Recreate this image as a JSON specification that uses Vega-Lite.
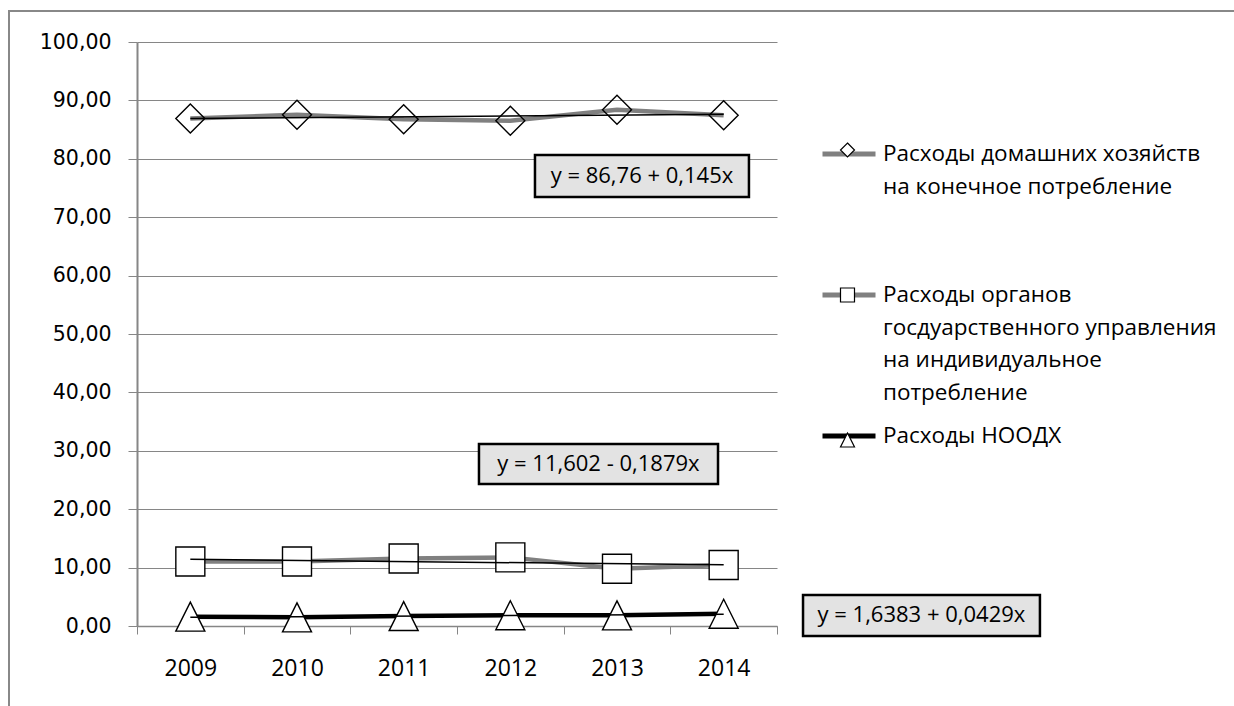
{
  "$schema": "https://vega.github.io/schema/vega-lite/v6.json",
  "width": 640,
  "height": 584,
  "autosize": "none",
  "padding": {"left": 137, "top": 42, "right": 457, "bottom": 80},
  "background": "white",
  "config": {
    "view": {"stroke": null},
    "axis": {"labelColor": "#000000", "domainColor": "#868686", "tickColor": "#868686", "gridColor": "#868686", "title": null}
  },
  "data": {
    "values": [
      {"year": 2009, "series": "Расходы домашних хозяйств на конечное потребление", "value": 86.9},
      {"year": 2010, "series": "Расходы домашних хозяйств на конечное потребление", "value": 87.54},
      {"year": 2011, "series": "Расходы домашних хозяйств на конечное потребление", "value": 86.79},
      {"year": 2012, "series": "Расходы домашних хозяйств на конечное потребление", "value": 86.5},
      {"year": 2013, "series": "Расходы домашних хозяйств на конечное потребление", "value": 88.4},
      {"year": 2014, "series": "Расходы домашних хозяйств на конечное потребление", "value": 87.47},
      {"year": 2009, "series": "Расходы органов госдуарственного управления на индивидуальное потребление", "value": 11.05},
      {"year": 2010, "series": "Расходы органов госдуарственного управления на индивидуальное потребление", "value": 11.05},
      {"year": 2011, "series": "Расходы органов госдуарственного управления на индивидуальное потребление", "value": 11.55},
      {"year": 2012, "series": "Расходы органов госдуарственного управления на индивидуальное потребление", "value": 11.75},
      {"year": 2013, "series": "Расходы органов госдуарственного управления на индивидуальное потребление", "value": 9.8},
      {"year": 2014, "series": "Расходы органов госдуарственного управления на индивидуальное потребление", "value": 10.45},
      {"year": 2009, "series": "Расходы НООДХ", "value": 1.6},
      {"year": 2010, "series": "Расходы НООДХ", "value": 1.48},
      {"year": 2011, "series": "Расходы НООДХ", "value": 1.7},
      {"year": 2012, "series": "Расходы НООДХ", "value": 1.85},
      {"year": 2013, "series": "Расходы НООДХ", "value": 1.82},
      {"year": 2014, "series": "Расходы НООДХ", "value": 2.1}
    ]
  },
  "layer": [
    {
      "encoding": {
        "x": {
          "field": "year", "type": "ordinal",
          "scale": {"type": "band", "paddingInner": 0, "paddingOuter": 0},
          "axis": {"tickBand": "extent", "labelAngle": 0, "tickSize": 8, "labelPadding": 23, "labelFont": "Open Sans", "labelFontSize": 23, "grid": false, "domainWidth": 1.5}
        },
        "y": {
          "field": "value", "type": "quantitative",
          "scale": {"domain": [0, 100], "nice": false},
          "axis": {"values": [0, 10, 20, 30, 40, 50, 60, 70, 80, 90, 100], "grid": true, "tickSize": 9, "labelPadding": 17, "labelFont": "DejaVu Sans", "labelFontSize": 20.5, "labelExpr": "replace(format(datum.value, '.2f'), '.', ',')", "domainWidth": 2}
        }
      },
      "layer": [
        {
          "mark": {"type": "line", "strokeWidth": 4.5},
          "encoding": {
            "stroke": {
              "field": "series",
              "scale": {
                "domain": ["Расходы домашних хозяйств на конечное потребление", "Расходы органов госдуарственного управления на индивидуальное потребление", "Расходы НООДХ"],
                "range": ["#808080", "#808080", "#000000"]
              },
              "legend": {
                "orient": "none", "legendX": 683, "legendY": 83, "title": null,
                "symbolType": "stroke", "symbolSize": 2809, "symbolStrokeWidth": 5,
                "labelFont": "Open Sans", "labelFontSize": 22.5, "labelColor": "#000000", "labelLimit": 600, "labelOffset": 5,
                "rowPadding": 3,
                "labelExpr": "datum.value == 'Расходы НООДХ' ? ['Расходы НООДХ'] : (datum.value == 'Расходы домашних хозяйств на конечное потребление' ? ['Расходы домашних хозяйств', 'на конечное потребление', ' ', ' '] : ['Расходы органов', 'госдуарственного управления', 'на индивидуальное', 'потребление'])",
                "encode": {"labels": {"update": {"lineHeight": {"value": 32.5}}}}
              }
            }
          }
        },
        {
          "mark": {"type": "point", "filled": true, "stroke": "#000000", "strokeWidth": 1.4, "size": 841, "opacity": 1},
          "encoding": {
            "shape": {
              "field": "series",
              "sort": ["Расходы домашних хозяйств на конечное потребление", "Расходы органов госдуарственного управления на индивидуальное потребление", "Расходы НООДХ"],
              "scale": {"range": ["M0,-1L1,0L0,1L-1,0Z", "M-1,-1L1,-1L1,1L-1,1Z", "M0,-1L1,1L-1,1Z"]},
              "legend": {
                "orient": "none", "legendX": 702.5, "legendY": 100, "title": null,
                "symbolSize": 196, "symbolStrokeColor": "#000000", "symbolFillColor": "#ffffff", "symbolStrokeWidth": 1.2,
                "labelFontSize": 10, "labelOffset": 0,
                "rowPadding": 125,
                "labelExpr": "''"
              }
            },
            "fill": {
              "field": "series",
              "scale": {
                "domain": ["Расходы домашних хозяйств на конечное потребление", "Расходы органов госдуарственного управления на индивидуальное потребление", "Расходы НООДХ"],
                "range": ["transparent", "#ffffff", "#ffffff"]
              },
              "legend": null
            }
          }
        },
        {
          "transform": [{"regression": "value", "on": "year", "groupby": ["series"]}],
          "mark": {"type": "line", "color": "#000000", "strokeWidth": 1.5},
          "encoding": {"detail": {"field": "series"}}
        }
      ]
    },
    {
      "data": {"values": [{}]},
      "layer": [
        {
          "mark": {"type": "rect", "fill": null, "stroke": "#888888", "strokeWidth": 2},
          "encoding": {
            "x": {"datum": 2007.3, "type": "quantitative", "scale": {"domain": [2008.5, 2014.5], "nice": false, "zero": false}, "axis": null},
            "x2": {"datum": 2020.5},
            "y": {"datum": 105.3, "type": "quantitative", "scale": {"domain": [0, 100], "nice": false}},
            "y2": {"datum": -16}
          }
        },
        {
          "mark": {"type": "rect", "fill": "#e3e3e3", "stroke": "#000000", "strokeWidth": 2.5},
          "encoding": {
            "x": {"datum": 2012.231, "type": "quantitative", "scale": {"domain": [2008.5, 2014.5], "nice": false, "zero": false}, "axis": null},
            "x2": {"datum": 2014.237},
            "y": {"datum": 80.65, "type": "quantitative", "scale": {"domain": [0, 100], "nice": false}},
            "y2": {"datum": 73.46}
          }
        },
        {
          "mark": {"type": "text", "text": "y = 86,76 + 0,145x", "font": "Open Sans", "fontSize": 22, "color": "#000000", "align": "center", "baseline": "middle"},
          "encoding": {
            "x": {"datum": 2013.234, "type": "quantitative", "scale": {"domain": [2008.5, 2014.5], "nice": false, "zero": false}, "axis": null},
            "y": {"datum": 77.05, "type": "quantitative", "scale": {"domain": [0, 100], "nice": false}}
          }
        },
        {
          "mark": {"type": "rect", "fill": "#e3e3e3", "stroke": "#000000", "strokeWidth": 2.5},
          "encoding": {
            "x": {"datum": 2011.706, "type": "quantitative", "scale": {"domain": [2008.5, 2014.5], "nice": false, "zero": false}, "axis": null},
            "x2": {"datum": 2013.947},
            "y": {"datum": 31.16, "type": "quantitative", "scale": {"domain": [0, 100], "nice": false}},
            "y2": {"datum": 24.32}
          }
        },
        {
          "mark": {"type": "text", "text": "y = 11,602 - 0,1879x", "font": "Open Sans", "fontSize": 22, "color": "#000000", "align": "center", "baseline": "middle"},
          "encoding": {
            "x": {"datum": 2012.826, "type": "quantitative", "scale": {"domain": [2008.5, 2014.5], "nice": false, "zero": false}, "axis": null},
            "y": {"datum": 27.74, "type": "quantitative", "scale": {"domain": [0, 100], "nice": false}}
          }
        },
        {
          "mark": {"type": "rect", "fill": "#e3e3e3", "stroke": "#000000", "strokeWidth": 2.5},
          "encoding": {
            "x": {"datum": 2014.744, "type": "quantitative", "scale": {"domain": [2008.5, 2014.5], "nice": false, "zero": false}, "axis": null},
            "x2": {"datum": 2016.965},
            "y": {"datum": 5.31, "type": "quantitative", "scale": {"domain": [0, 100], "nice": false}},
            "y2": {"datum": -1.71}
          }
        },
        {
          "mark": {"type": "text", "text": "y = 1,6383 + 0,0429x", "font": "Open Sans", "fontSize": 22, "color": "#000000", "align": "center", "baseline": "middle"},
          "encoding": {
            "x": {"datum": 2015.854, "type": "quantitative", "scale": {"domain": [2008.5, 2014.5], "nice": false, "zero": false}, "axis": null},
            "y": {"datum": 1.8, "type": "quantitative", "scale": {"domain": [0, 100], "nice": false}}
          }
        }
      ]
    }
  ],
  "resolve": {"scale": {"x": "independent"}}
}
